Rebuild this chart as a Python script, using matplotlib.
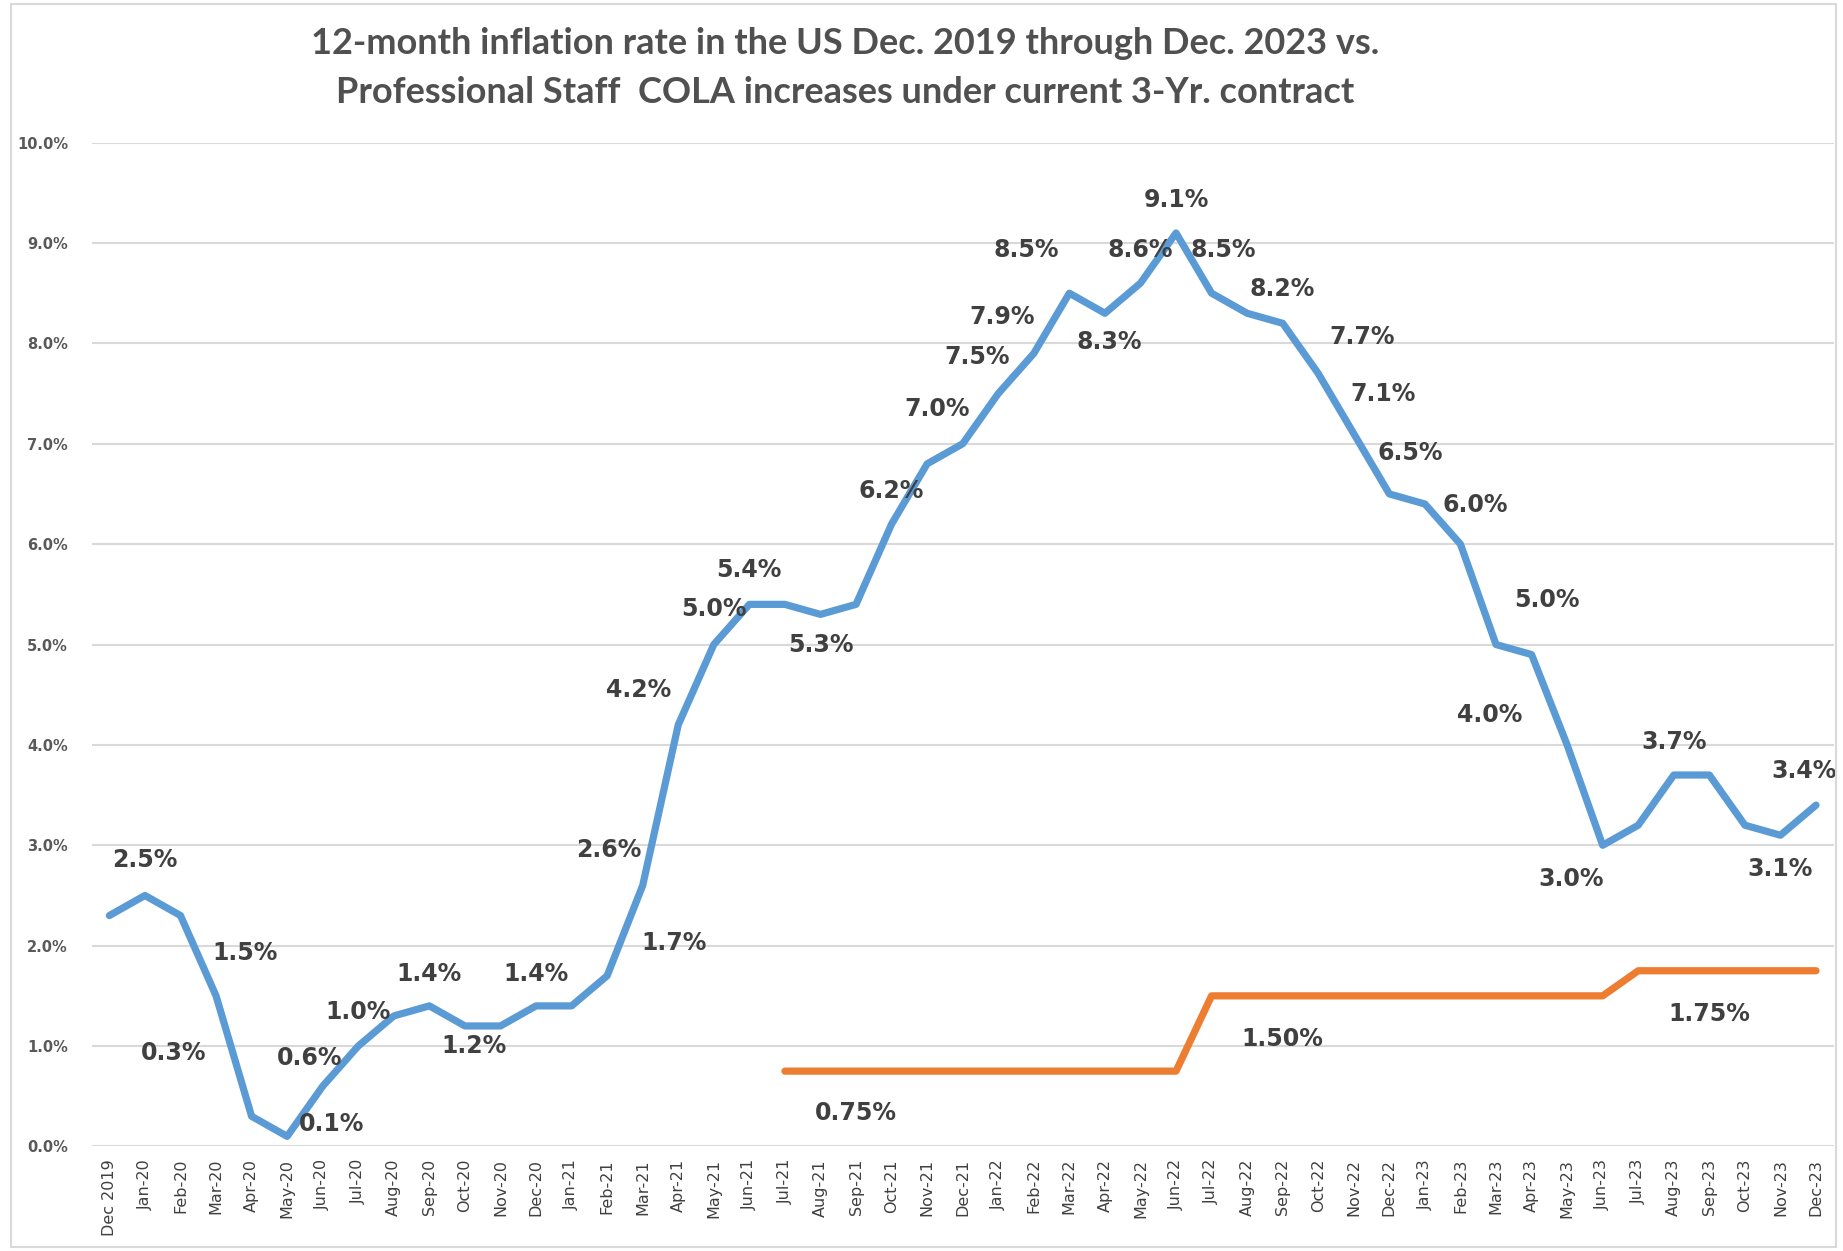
import matplotlib
matplotlib.use("Agg")
import matplotlib.pyplot as plt
from matplotlib.patches import Rectangle

months = ["Dec 2019", "Jan-20", "Feb-20", "Mar-20", "Apr-20", "May-20", "Jun-20", "Jul-20",
          "Aug-20", "Sep-20", "Oct-20", "Nov-20", "Dec-20", "Jan-21", "Feb-21", "Mar-21",
          "Apr-21", "May-21", "Jun-21", "Jul-21", "Aug-21", "Sep-21", "Oct-21", "Nov-21",
          "Dec-21", "Jan-22", "Feb-22", "Mar-22", "Apr-22", "May-22", "Jun-22", "Jul-22",
          "Aug-22", "Sep-22", "Oct-22", "Nov-22", "Dec-22", "Jan-23", "Feb-23", "Mar-23",
          "Apr-23", "May-23", "Jun-23", "Jul-23", "Aug-23", "Sep-23", "Oct-23", "Nov-23",
          "Dec-23"]

inflation = [2.3, 2.5, 2.3, 1.5, 0.3, 0.1, 0.6, 1.0, 1.3, 1.4, 1.2, 1.2, 1.4, 1.4, 1.7, 2.6,
             4.2, 5.0, 5.4, 5.4, 5.3, 5.4, 6.2, 6.8, 7.0, 7.5, 7.9, 8.5, 8.3, 8.6, 9.1, 8.5,
             8.3, 8.2, 7.7, 7.1, 6.5, 6.4, 6.0, 5.0, 4.9, 4.0, 3.0, 3.2, 3.7, 3.7, 3.2, 3.1,
             3.4]

cola_start = 19  # Jul-21
cola = [0.75] * 12 + [1.50] * 12 + [1.75] * 6

yticks = [0, 1, 2, 3, 4, 5, 6, 7, 8, 9, 10]

# label placement: (index, dx in months, dy in %)
blue_labels = [(1, 0, .35), (3, .83, .43), (4, -2.18, .63), (5, 1.26, .12), (6, -.38, .28),
               (7, 0, .34), (9, 0, .32), (10, .25, -.2), (12, 0, .32), (14, 1.87, .33),
               (15, -.96, .35), (16, -1.12, .35), (17, 0, .35), (18, 0, .34), (20, 0, -.3),
               (22, 0, .33), (24, -.73, .35), (25, -.6, .36), (26, -.88, .36), (27, -1.22, .43),
               (28, .13, -.29), (29, 0, .33), (30, 0, .33), (31, .33, .43), (33, 0, .34),
               (34, 1.24, .36), (35, .83, .4), (36, .6, .41), (38, .41, .39), (39, 1.42, .44),
               (41, -2.18, .3), (42, -.88, -.34), (44, 0, .33), (47, 0, -.34), (48, -.33, .34)]
orange_labels = [(21, 0, -.42), (33, 0, -.43), (45, 0, -.43)]

BLUE = "#5B9BD5"
ORANGE = "#ED7D31"
TXT = "#404040"
GRID = "#D9D9D9"

fig = plt.figure(figsize=(18.43, 12.51), dpi=100)
ax = fig.add_axes([0.0497, 0.0836, 0.9453, 0.8024])

x = list(range(len(months)))
ax.plot(x, inflation, color=BLUE, lw=5.2, solid_joinstyle="round", solid_capstyle="round", zorder=3)
xc = list(range(cola_start, cola_start + len(cola)))
ax.plot(xc, cola, color=ORANGE, lw=5.2, solid_joinstyle="round", solid_capstyle="round", zorder=3)

lab_kw = dict(fontsize=17, fontweight="bold", color=TXT, ha="center", va="center",
              family="DejaVu Sans", zorder=4)
for i, dx, dy in blue_labels:
    ax.text(i + dx, inflation[i] + dy, f"{inflation[i]:.1f}%", **lab_kw)
for i, dx, dy in orange_labels:
    v = cola[i - cola_start]
    ax.text(i + dx, v + dy, f"{v:.2f}%", **lab_kw)

ax.set_xlim(-0.5, len(months) - 0.5)
ax.set_ylim(0, 10)
ax.set_yticks(yticks)
ax.set_yticklabels([f"{t:.1f}%" for t in yticks], fontsize=10.5, fontweight="bold", color="#595959")
ax.set_xticks(x)
ax.set_xticklabels(months, rotation=90, fontsize=11.5, color="#404040",
                   family=["Liberation Sans Narrow", "DejaVu Sans"])
ax.tick_params(axis="y", length=0, pad=17)
ax.tick_params(axis="x", length=0, pad=9)
ax.grid(axis="y", color=GRID, lw=1.5)
ax.set_axisbelow(True)
for s in ax.spines.values():
    s.set_visible(False)

fig.text(0.4585, 0.965, "12-month inflation rate in the US Dec. 2019 through Dec. 2023 vs.",
         ha="center", va="center", fontsize=26, fontweight="bold", color="#505050", family="Lato")
fig.text(0.4585, 0.926, "Professional Staff  COLA increases under current 3-Yr. contract",
         ha="center", va="center", fontsize=26, fontweight="bold", color="#505050", family="Lato")

fig.patches.append(Rectangle((0.006, 0.003), 0.99, 0.994, transform=fig.transFigure,
                             fill=False, edgecolor="#D9D9D9", lw=1.5))

fig.savefig("out.png", dpi=100, facecolor="white")
